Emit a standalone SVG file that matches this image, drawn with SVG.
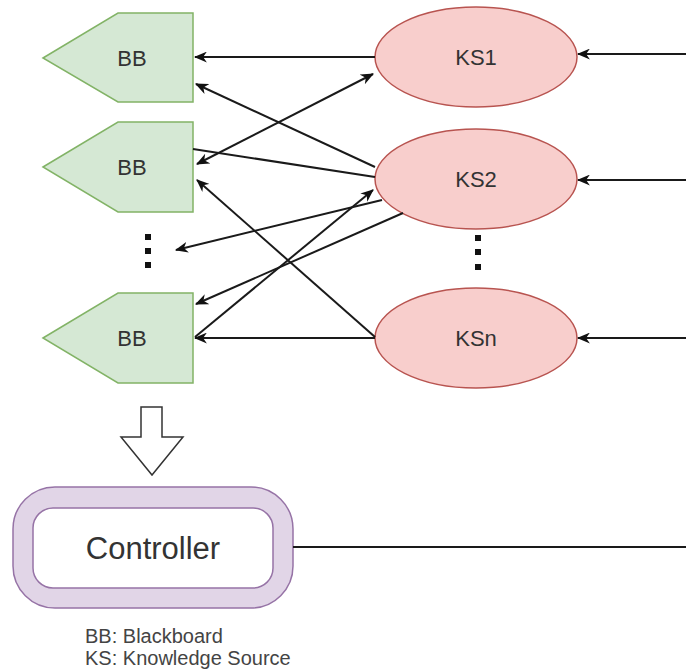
<svg xmlns="http://www.w3.org/2000/svg" width="686" height="672" viewBox="0 0 686 672">
  <style>
    .bb { fill: #d5e8d4; stroke: #82b366; stroke-width: 1.5; }
    .ks { fill: #f8cecc; stroke: #b85450; stroke-width: 1.5; }
    .lbl { font-family: "Liberation Sans", Arial, sans-serif; fill: #333; text-anchor: middle; }
    .edge { stroke: #1a1a1a; stroke-width: 2; fill: none; }
    .dot { fill: #111; }
  </style>
  <defs>
    <marker id="arr" viewBox="0 0 12 10" refX="11" refY="5" markerWidth="13" markerHeight="11" markerUnits="userSpaceOnUse" orient="auto-start-reverse">
      <path d="M12,5 L0,0 L3.5,5 L0,10 Z" fill="#111"/>
    </marker>
  </defs>
  <rect width="686" height="672" fill="#fff"/>

  <!-- Blackboards -->
  <g id="bb1">
    <polygon class="bb" points="43,58 118,13 193,13 193,102 118,102"/>
    <text class="lbl" x="132" y="66" font-size="22">BB</text>
  </g>
  <g id="bb2">
    <polygon class="bb" points="43,167 118,122 193,122 193,212 118,212"/>
    <text class="lbl" x="132" y="175" font-size="22">BB</text>
  </g>
  <g id="bb3">
    <polygon class="bb" points="43,338 118,293 193,293 193,383 118,383"/>
    <text class="lbl" x="132" y="346" font-size="22">BB</text>
  </g>
  <g id="bb-more">
    <rect class="dot" x="145" y="234" width="6" height="6"/>
    <rect class="dot" x="145" y="248" width="6" height="6"/>
    <rect class="dot" x="145" y="262" width="6" height="6"/>
  </g>

  <!-- Knowledge sources -->
  <g id="ks1">
    <ellipse class="ks" cx="476" cy="57" rx="101" ry="50"/>
    <text class="lbl" x="476" y="65" font-size="22">KS1</text>
  </g>
  <g id="ks2">
    <ellipse class="ks" cx="476" cy="179" rx="101" ry="50"/>
    <text class="lbl" x="476" y="187" font-size="22">KS2</text>
  </g>
  <g id="ksn">
    <ellipse class="ks" cx="476" cy="338" rx="101" ry="50"/>
    <text class="lbl" x="476" y="346" font-size="22">KSn</text>
  </g>
  <g id="ks-more">
    <rect class="dot" x="475" y="235" width="6" height="6"/>
    <rect class="dot" x="475" y="249" width="6" height="6"/>
    <rect class="dot" x="475" y="264" width="6" height="6"/>
  </g>

  <!-- Controller -->
  <g id="controller">
    <rect x="13" y="487" width="280" height="121" rx="42" ry="42" fill="#e1d5e7" stroke="#9673a6" stroke-width="1.5"/>
    <rect x="33" y="508" width="240" height="80" rx="20" ry="20" fill="#fff" stroke="#9673a6" stroke-width="1.5"/>
    <text class="lbl" x="153" y="559" font-size="31">Controller</text>
  </g>

  <!-- Hollow block arrow into the controller -->
  <g id="to-controller">
    <polygon points="141,407 162,407 162,437 183,437 152,475 121,437 141,437" fill="#fff" stroke="#333" stroke-width="1.5" stroke-linejoin="miter"/>
  </g>

  <!-- Legend -->
  <g id="legend" font-family="'Liberation Sans', Arial, sans-serif" font-size="20" fill="#444">
    <text x="85" y="643">BB: Blackboard</text>
    <text x="85" y="665">KS: Knowledge Source</text>
  </g>

  <g id="connectors">
    <!-- external inputs into each knowledge source -->
    <line class="edge" x1="686" y1="54" x2="578" y2="54" marker-end="url(#arr)"/>
    <line class="edge" x1="686" y1="180" x2="578" y2="180" marker-end="url(#arr)"/>
    <line class="edge" x1="686" y1="338" x2="578" y2="338" marker-end="url(#arr)"/>
    <!-- controller output -->
    <line class="edge" x1="293" y1="547" x2="686" y2="547"/>

    <!-- knowledge sources writing to blackboards -->
    <line class="edge" x1="375" y1="57" x2="195" y2="57" marker-end="url(#arr)"/>
    <line class="edge" x1="375" y1="167" x2="196" y2="84" marker-end="url(#arr)"/>
    <line class="edge" x1="197" y1="164" x2="373" y2="74" marker-start="url(#arr)" marker-end="url(#arr)"/>
    <line class="edge" x1="193" y1="149" x2="375" y2="177"/>
    <line class="edge" x1="375" y1="337" x2="197" y2="180" marker-end="url(#arr)"/>
    <line class="edge" x1="382" y1="200" x2="176" y2="250" marker-end="url(#arr)"/>
    <line class="edge" x1="403" y1="213" x2="196" y2="304" marker-end="url(#arr)"/>
    <line class="edge" x1="195" y1="337" x2="373" y2="190" marker-end="url(#arr)"/>
    <line class="edge" x1="375" y1="338" x2="195" y2="338" marker-end="url(#arr)"/>
  </g>
</svg>
